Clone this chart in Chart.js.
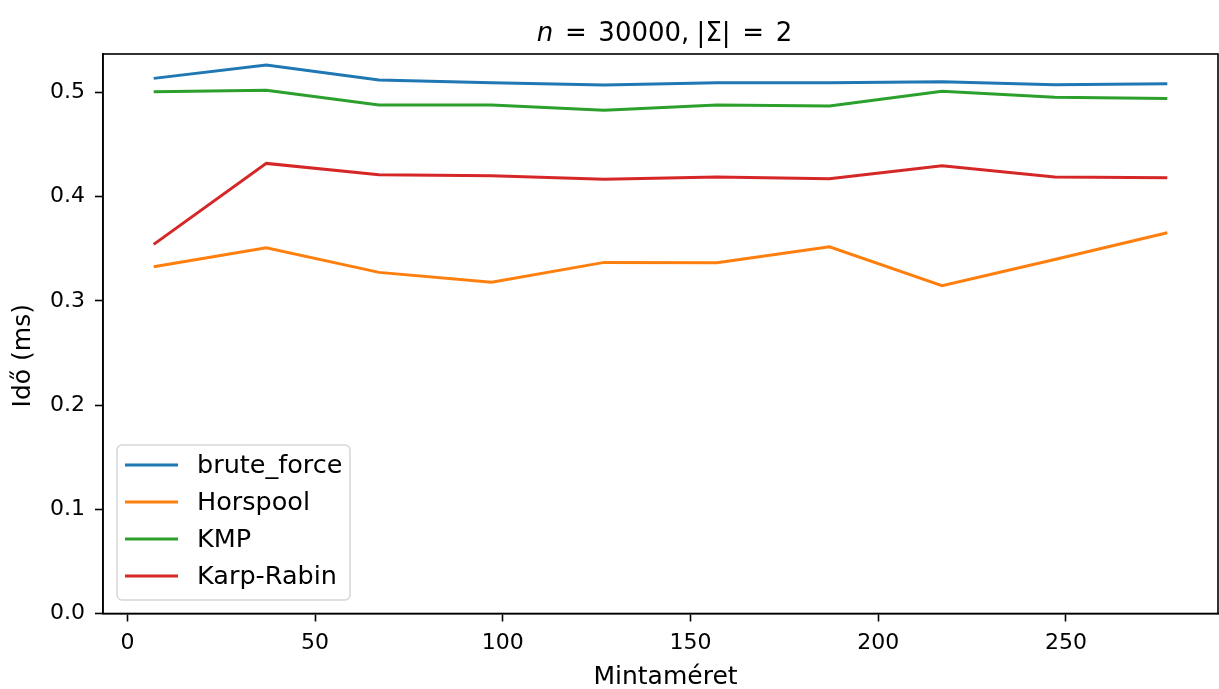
<!DOCTYPE html>
<html>
<head>
<meta charset="utf-8">
<script src="https://cdn.jsdelivr.net/npm/chart.js@4/dist/chart.umd.min.js"></script>
<style>
html,body{margin:0;padding:0;background:#fff;}
#wrap{width:1219px;height:689px;position:relative;}
</style>
</head>
<body>
<div id="wrap"><canvas id="c" width="1219" height="689"></canvas></div>
<script>
const patternSizes = [7, 37, 67, 97, 127, 157, 187, 217, 247, 277];
const bruteForce = [0.5136, 0.5264, 0.5120, 0.5094, 0.5072, 0.5094, 0.5094, 0.5104, 0.5075, 0.5084];
const horspool   = [0.3328, 0.3511, 0.3274, 0.3179, 0.3370, 0.3367, 0.3520, 0.3146, 0.3397, 0.3655];
const kmp        = [0.5008, 0.5021, 0.4880, 0.4880, 0.4829, 0.4880, 0.4870, 0.5012, 0.4954, 0.4944];
const karpRabin  = [0.3543, 0.4320, 0.4211, 0.4201, 0.4167, 0.4189, 0.4173, 0.4298, 0.4189, 0.4182];
const seriesNames = ["brute_force", "Horspool", "KMP", "Karp-Rabin"];
const xTicks = [0, 50, 100, 150, 200, 250];
const yTicks = [0.0, 0.1, 0.2, 0.3, 0.4, 0.5];
const titleParts = [["n", true], ["=", false], ["30000,", false], ["|Σ|", false], ["=", false], ["2", false]];
const xLabel = "Mintaméret";
const yLabel = "Idő (ms)";

const colors = ["#1f77b4", "#ff7f0e", "#2ca02c", "#d62728"];
const allSeries = [bruteForce, horspool, kmp, karpRabin];
const FONT = "'DejaVu Sans', sans-serif";

const datasets = allSeries.map((vals, i) => ({
  label: seriesNames[i],
  data: patternSizes.map((x, j) => ({x: x, y: vals[j]})),
  borderColor: colors[i],
  backgroundColor: colors[i],
  borderWidth: 3,
  pointRadius: 0,
  tension: 0,
  fill: false
}));

const deco = {
  id: 'deco',
  afterDraw(chart) {
    const ctx = chart.ctx;
    const a = chart.chartArea;
    ctx.save();
    // frame
    ctx.strokeStyle = '#000';
    ctx.lineWidth = 1.6;
    ctx.strokeRect(a.left, a.top, a.right - a.left, a.bottom - a.top);
    // title (mathtext-like spacing)
    ctx.fillStyle = '#000';
    ctx.textBaseline = 'alphabetic';
    const fs = 26;
    const gaps = [fs * 0.45, fs * 0.45, fs * 0.28, fs * 0.45, fs * 0.45];
    const widths = titleParts.map(p => {
      ctx.font = (p[1] ? 'italic ' : '') + fs + 'px ' + FONT;
      return ctx.measureText(p[0]).width;
    });
    const total = widths.reduce((s, w) => s + w, 0) + gaps.reduce((s, g) => s + g, 0);
    const cx = (a.left + a.right) / 2;
    let x = cx - total / 2 + 4;
    const ty = 41;
    ctx.textAlign = 'left';
    titleParts.forEach((p, i) => {
      ctx.font = (p[1] ? 'italic ' : '') + fs + 'px ' + FONT;
      ctx.fillText(p[0], x, ty);
      x += widths[i] + (gaps[i] || 0);
    });
    // axis labels
    ctx.font = '25px ' + FONT;
    ctx.textAlign = 'center';
    ctx.textBaseline = 'middle';
    ctx.fillText(xLabel, cx + 5, 677);
    ctx.save();
    ctx.translate(23, (a.top + a.bottom) / 2 + 22);
    ctx.rotate(-Math.PI / 2);
    ctx.fillText(yLabel, 0, 0);
    ctx.restore();
    // legend
    const lx = 117, ly = 445, lw = 233, lh = 155, r = 5;
    ctx.beginPath();
    ctx.moveTo(lx + r, ly);
    ctx.arcTo(lx + lw, ly, lx + lw, ly + lh, r);
    ctx.arcTo(lx + lw, ly + lh, lx, ly + lh, r);
    ctx.arcTo(lx, ly + lh, lx, ly, r);
    ctx.arcTo(lx, ly, lx + lw, ly, r);
    ctx.closePath();
    ctx.fillStyle = 'rgba(255,255,255,0.8)';
    ctx.fill();
    ctx.strokeStyle = '#d6d6d6';
    ctx.lineWidth = 1.5;
    ctx.stroke();
    ctx.textAlign = 'left';
    ctx.textBaseline = 'middle';
    ctx.font = '25.5px ' + FONT;
    chart.data.datasets.forEach((ds, i) => {
      const yy = 465 + i * 37;
      ctx.strokeStyle = ds.borderColor;
      ctx.lineWidth = 3;
      ctx.beginPath();
      ctx.moveTo(125, yy);
      ctx.lineTo(178, yy);
      ctx.stroke();
      ctx.fillStyle = '#000';
      ctx.fillText(ds.label, 197, yy + 1);
    });
    ctx.restore();
  }
};

new Chart(document.getElementById('c'), {
  type: 'line',
  data: { datasets },
  options: {
    responsive: false,
    animation: false,
    devicePixelRatio: 1,
    layout: { padding: { left: 0, right: 1, top: 54, bottom: 0 } },
    plugins: { legend: { display: false }, title: { display: false }, tooltip: { enabled: false } },
    scales: {
      x: {
        type: 'linear',
        min: -6.5,
        max: 290.5,
        afterBuildTicks: s => { s.ticks = xTicks.map(v => ({value: v})); },
        afterFit: s => { s.height = 75.5; },
        grid: { drawOnChartArea: false, drawTicks: true, tickLength: 8, tickColor: '#000', tickWidth: 1.6 },
        border: { display: true, color: '#000', width: 1.6 },
        ticks: { color: '#000', font: { family: FONT, size: 22 }, padding: 9, maxRotation: 0, autoSkip: false }
      },
      y: {
        type: 'linear',
        min: 0,
        max: 0.537,
        afterBuildTicks: s => { s.ticks = yTicks.map(v => ({value: v})); },
        afterFit: s => { s.width = 103; },
        grid: { drawOnChartArea: false, drawTicks: true, tickLength: 8, tickColor: '#000', tickWidth: 1.6 },
        border: { display: true, color: '#000', width: 1.6 },
        ticks: { color: '#000', font: { family: FONT, size: 22 }, padding: 10, callback: v => Number(v).toFixed(1), autoSkip: false }
      }
    }
  },
  plugins: [deco]
});
</script>
</body>
</html>
